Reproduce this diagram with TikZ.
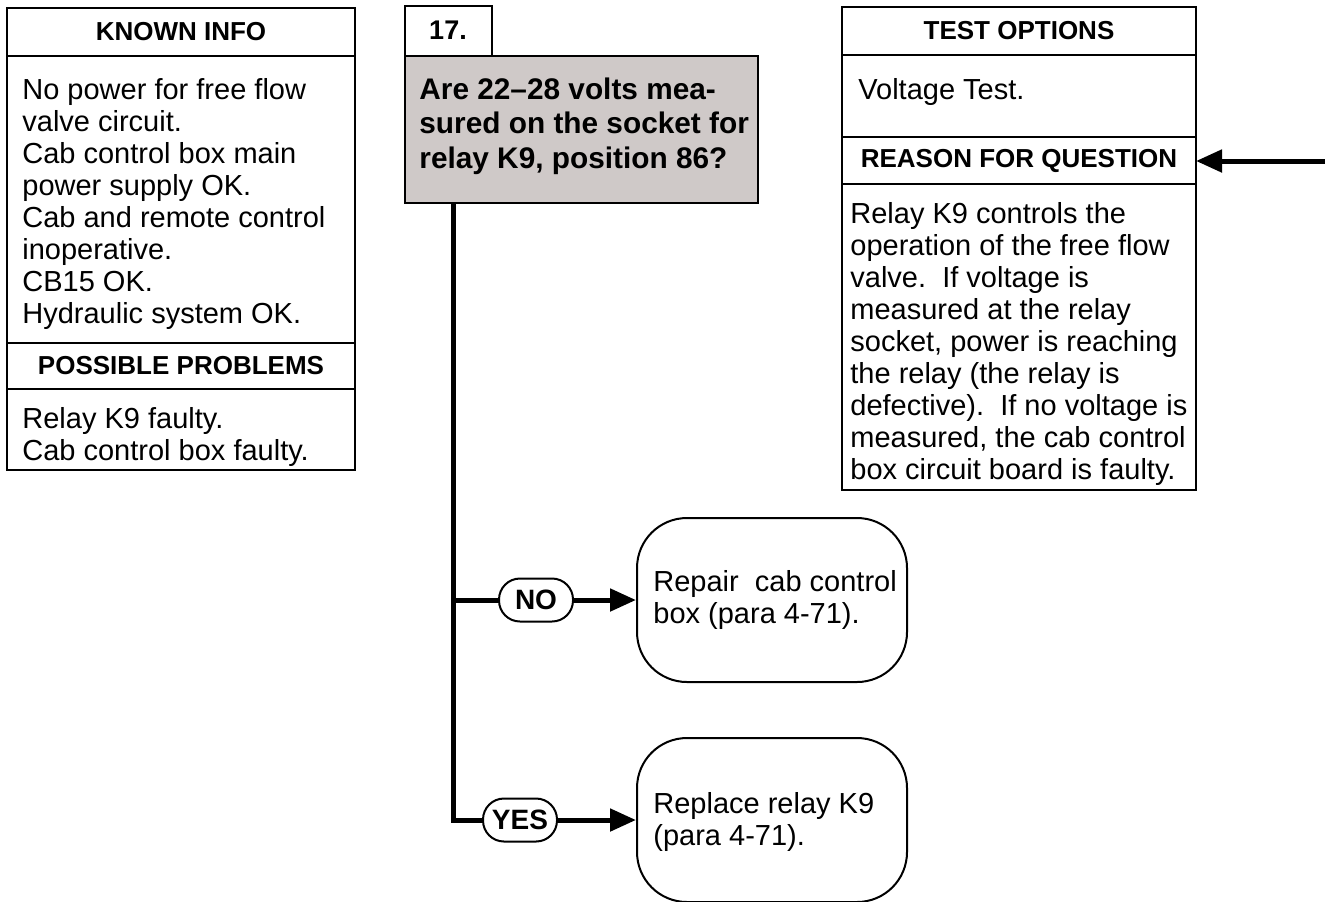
\documentclass[tikz,border=0pt]{standalone}
\usepackage{fontspec}
\setmainfont{Liberation Sans}
\usetikzlibrary{arrows.meta}
\definecolor{askgray}{RGB}{207,201,200}

\tikzset{
  panel/.style={line width=1pt},
  head/.style={font=\bfseries\fontsize{13}{15}\selectfont, inner sep=0pt},
  bodytext/.style={font=\fontsize{14.5}{16}\selectfont, align=left, inner sep=0pt},
  asktext/.style={font=\bfseries\fontsize{14.9}{17.25}\selectfont, align=left, inner sep=0pt},
  pill/.style={draw, line width=1pt, fill=white, rounded corners=10.5pt, minimum width=37pt,
    minimum height=21.5pt, inner sep=0pt, font=\bfseries\fontsize{14}{16}\selectfont},
  endbox/.style={draw, line width=1pt, rounded corners=25pt, minimum width=135pt, minimum height=82pt},
  flow/.style={line width=2.5pt},
  tip/.style={flow, -{Triangle[length=13pt,width=11pt]}}
}

\begin{document}
\begin{tikzpicture}[x=0.5pt,y=-0.5pt]
\useasboundingbox (0,0) rectangle (1325,901);

% known info / possible problems
\draw[panel] (7,8) rectangle (355,470);
\draw[panel] (7,56) -- (355,56);
\draw[panel] (7,343) -- (355,343);
\draw[panel] (7,389) -- (355,389);
\node[head] (knownhead) at (181,32) {KNOWN INFO};
\node[bodytext, anchor=north west] (knowntxt) at (22,78)
  {No power for free flow\\valve circuit.\\Cab control box main\\power supply OK.\\
   Cab and remote control\\inoperative.\\CB15 OK.\\Hydraulic system OK.};
\node[head] (probhead) at (181,366) {POSSIBLE PROBLEMS};
\node[bodytext, anchor=north west] (probtxt) at (22,407)
  {Relay K9 faulty.\\Cab control box faulty.};

% question
\draw[panel] (405,6) rectangle (492,56);
\draw[panel, fill=askgray] (405,56) rectangle (758,203);
\node[head, font=\bfseries\fontsize{13.5}{15}\selectfont] (num) at (448,30) {17.};
\node[asktext, anchor=north west] (ask) at (419,77)
  {Are 22--28 volts mea-\\sured on the socket for\\relay K9, position 86?};

% test options / reason
\draw[panel] (842,7) rectangle (1196,490);
\draw[panel] (842,55) -- (1196,55);
\draw[panel] (842,137) -- (1196,137);
\draw[panel] (842,184) -- (1196,184);
\node[head] (testhead) at (1019,31) {TEST OPTIONS};
\node[bodytext, anchor=north west] (testtxt) at (858,78) {Voltage Test.};
\node[head] (reason) at (1019,160.5) {REASON FOR QUESTION};
\node[bodytext, anchor=north west] (reasontxt) at (850,202)
  {Relay K9 controls the\\operation of the free flow\\valve.\ \ If voltage is\\
   measured at the relay\\socket, power is reaching\\the relay (the relay is\\
   defective).\ \ If no voltage is\\measured, the cab control\\box circuit board is faulty.};
\coordinate (reasonedge) at (1196,161);
\coordinate (feed) at (1325,161);
\draw[tip] (feed) -- (reasonedge);

% answers
\node[endbox] (repair) at (772,600) {};
\node[bodytext, anchor=west] (repairtxt) at (653,600) {Repair\ \ cab control\\box (para 4-71).};
\node[endbox] (replace) at (772,820) {};
\node[bodytext, anchor=west] (replacetxt) at (653,822) {Replace relay K9\\(para 4-71).};

\coordinate (trunk) at (453,203);
\node[pill] (no) at (536,600) {NO};
\node[pill] (yes) at (520,820) {YES};
\draw[flow] (trunk) |- (yes.west);
\draw[flow] (trunk |- no) -- (no.west);
\draw[tip] (no.east) -- (repair.west);
\draw[tip] (yes.east) -- (replace.west);
\end{tikzpicture}
\end{document}
